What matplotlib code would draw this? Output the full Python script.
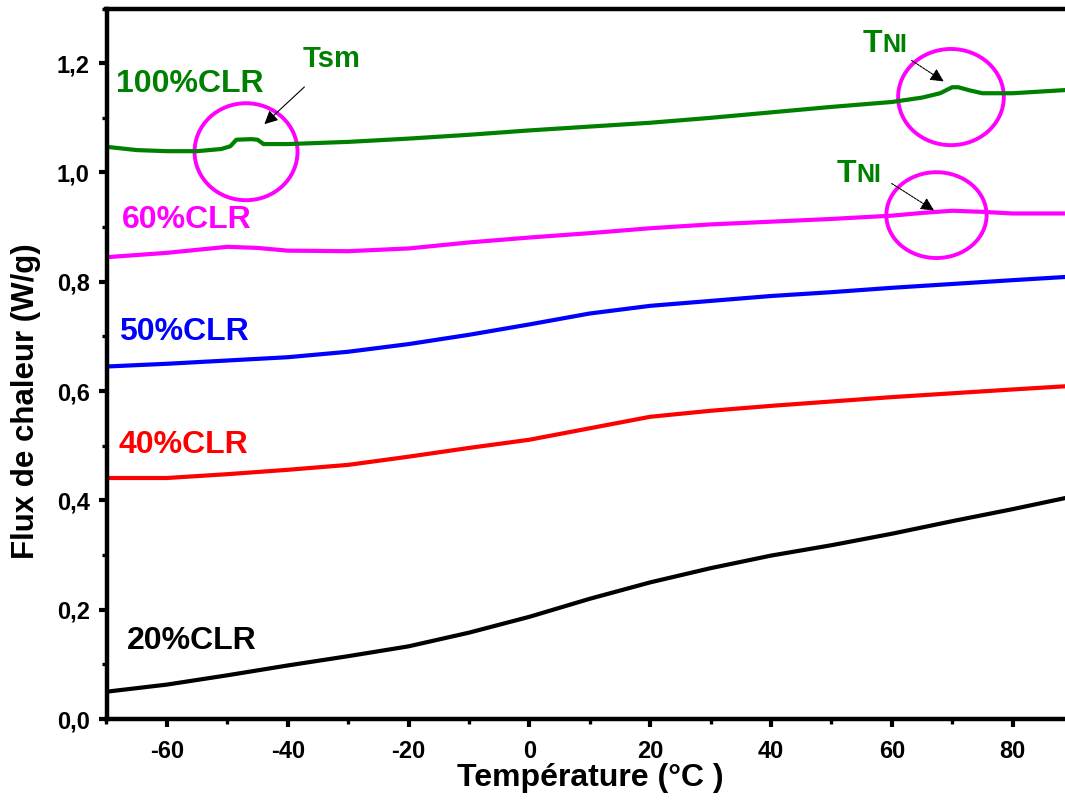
import matplotlib
matplotlib.use("Agg")
import matplotlib.pyplot as plt
from matplotlib.patches import Ellipse
from matplotlib.ticker import MultipleLocator, FuncFormatter

plt.rcParams['font.family'] = ['Liberation Sans', 'DejaVu Sans']
plt.rcParams['font.weight'] = 'bold'
plt.rcParams['axes.unicode_minus'] = False

# courbes DSC (Temperature en °C, flux en W/g)
t_base = [-70, -60, -50, -40, -30, -20, -10, 0, 10, 20, 30, 40, 50, 60, 70, 80, 89]
flux_20 = [0.050, 0.063, 0.080, 0.098, 0.115, 0.133, 0.158, 0.187, 0.220, 0.250,
           0.276, 0.299, 0.318, 0.339, 0.362, 0.384, 0.405]
flux_40 = [0.441, 0.441, 0.448, 0.456, 0.465, 0.480, 0.496, 0.511, 0.532, 0.553,
           0.564, 0.573, 0.581, 0.589, 0.596, 0.603, 0.609]
flux_50 = [0.645, 0.650, 0.656, 0.662, 0.672, 0.686, 0.703, 0.722, 0.742, 0.756,
           0.765, 0.774, 0.781, 0.789, 0.796, 0.803, 0.809]

t_60 = [-70, -60, -50, -45, -40, -30, -20, -10, 0, 10, 20, 30, 40, 50, 60, 65, 70, 75, 80, 89]
flux_60 = [0.845, 0.853, 0.864, 0.862, 0.857, 0.856, 0.861, 0.872, 0.881, 0.889,
           0.898, 0.905, 0.910, 0.915, 0.921, 0.926, 0.930, 0.928, 0.925, 0.925]

t_100 = [-70, -65, -60, -55, -51, -49.5, -48.5, -46, -45, -44, -40, -30, -20, -10, 0,
         10, 20, 30, 40, 50, 60, 65, 68, 70, 71, 73, 75, 80, 89]
flux_100 = [1.047, 1.041, 1.039, 1.039, 1.043, 1.048, 1.060, 1.061, 1.060, 1.052, 1.052,
            1.056, 1.062, 1.069, 1.077, 1.084, 1.091, 1.100, 1.110, 1.120, 1.129, 1.137,
            1.145, 1.156, 1.156, 1.150, 1.145, 1.145, 1.151]

noms = ['20%CLR', '40%CLR', '50%CLR', '60%CLR', '100%CLR']
couleurs = ['black', '#ff0000', '#0000ff', '#ff00ff', '#008000']

fig = plt.figure(figsize=(10.65, 8.05), dpi=100)
ax = fig.add_axes([0.1, 0.1068, 0.9075, 0.8826])

series = [(t_base, flux_20), (t_base, flux_40), (t_base, flux_50), (t_60, flux_60), (t_100, flux_100)]
for (t, f), c in zip(series, couleurs):
    ax.plot(t, f, color=c, lw=3.0)

# noms des courbes
pos_noms = [(-66.6, 0.128), (-68.0, 0.487), (-67.9, 0.6935), (-67.5, 0.898), (-68.4, 1.148)]
for nom, c, (x, y) in zip(noms, couleurs, pos_noms):
    ax.text(x, y, nom, color=c, fontsize=23, fontweight='bold', va='baseline', ha='left')

# cercles autour des transitions
for (cx, cy, w, h) in [(-46.9, 1.038, 17.05, 0.1775), (69.8, 1.138, 17.5, 0.176), (67.4, 0.922, 16.6, 0.157)]:
    ax.add_patch(Ellipse((cx, cy), w, h, fill=False, edgecolor='#ff00ff', lw=2.8))

vert = '#008000'
# Tsm
ax.annotate('', xy=(-44.2, 1.085), xytext=(-36.9, 1.160),
            arrowprops=dict(arrowstyle='-|>', color='black', lw=0.8, mutation_scale=20))
ax.text(-37.6, 1.193, 'Tsm', color=vert, fontsize=21, va='baseline', ha='left')

# TNI
ax.annotate('', xy=(69.0, 1.1638), xytext=(62.9, 1.2077),
            arrowprops=dict(arrowstyle='-|>', color='black', lw=0.8, ls=(0, (2, 1)), mutation_scale=20))
ax.text(55.1, 1.2205, 'T', color=vert, fontsize=23, va='baseline', ha='left')
ax.text(58.5, 1.2205, 'NI', color=vert, fontsize=18, va='baseline', ha='left')

ax.annotate('', xy=(67.4, 0.9277), xytext=(59.6, 0.9826),
            arrowprops=dict(arrowstyle='-|>', color='black', lw=0.8, ls=(0, (2, 1)), mutation_scale=20))
ax.text(50.8, 0.9826, 'T', color=vert, fontsize=23, va='baseline', ha='left')
ax.text(54.2, 0.9826, 'NI', color=vert, fontsize=18, va='baseline', ha='left')

ax.set_xlim(-70, 90)
ax.set_ylim(0, 1.3)
ax.xaxis.set_major_locator(MultipleLocator(20))
ax.xaxis.set_minor_locator(MultipleLocator(10))
ax.yaxis.set_major_locator(MultipleLocator(0.2))
ax.yaxis.set_minor_locator(MultipleLocator(0.1))
ax.yaxis.set_major_formatter(FuncFormatter(lambda v, p: f"{v:.1f}".replace('.', ',')))
ax.xaxis.set_major_formatter(FuncFormatter(lambda v, p: f"{v:.0f}"))

for s in ['left', 'bottom', 'top']:
    ax.spines[s].set_linewidth(3.2)
ax.spines['right'].set_visible(False)

ax.tick_params(which='major', direction='out', length=6, width=3.0, labelsize=17, pad=6)
ax.tick_params(axis='x', which='major', pad=9)
ax.tick_params(which='minor', direction='out', length=3.5, width=2.4)

ax.set_xlabel('Température (°C )', fontsize=23, fontweight='bold')
ax.set_ylabel('Flux de chaleur (W/g)', fontsize=22.5, fontweight='bold')
ax.xaxis.set_label_coords(0.501, -0.062)
ax.yaxis.set_label_coords(-0.0673, 0.4476)

fig.savefig('out.png', dpi=100)
